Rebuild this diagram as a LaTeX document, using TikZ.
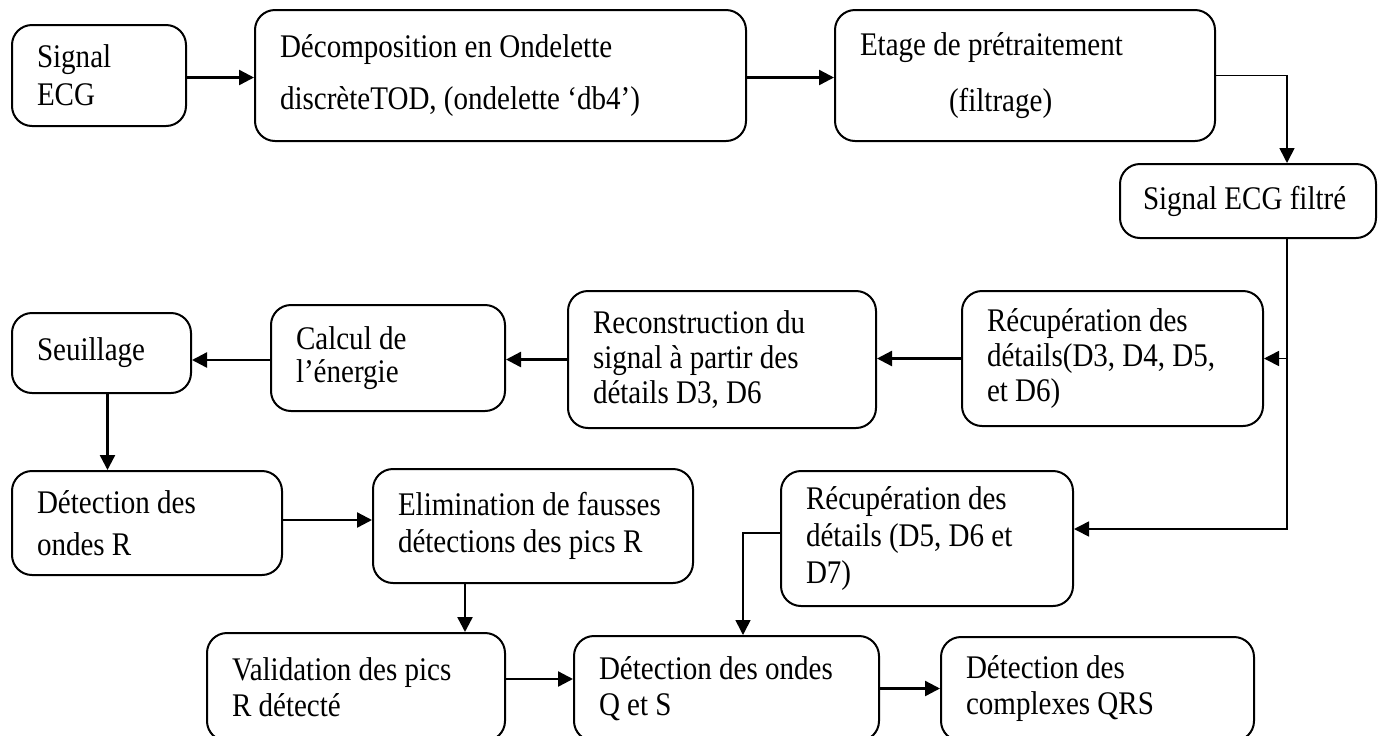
\documentclass[tikz,border=0pt]{standalone}
\usepackage{fontspec}
\setmainfont{Liberation Serif}[FakeStretch=0.88]
\usetikzlibrary{arrows.meta}
\begin{document}
\begin{tikzpicture}[x=0.5pt,y=-0.5pt,
  box/.style={draw, line width=1pt, rounded corners=10pt, anchor=north west, align=flush left,
    inner xsep=12.5pt, inner ysep=0pt, font=\fontsize{16.5}{17.5}\selectfont},
  arr/.style={line width=1.2pt, -{Triangle[length=7.5pt,width=7.5pt]}},
  trunk/.style={line width=0.8pt, -{Triangle[length=7.5pt,width=7.5pt]}}]
\useasboundingbox (0,0) rectangle (1378,735);
% row 1
\node[box, minimum width=87pt, minimum height=50.5pt, text width=62pt, font=\fontsize{16.5}{19}\selectfont] (sig) at (11,24) {Signal\\ECG};
\node[box, minimum width=245.5pt, minimum height=65.5pt, text width=220.5pt, font=\fontsize{16.5}{26}\selectfont] (dec) at (254,9) {Décomposition en Ondelette\\discrèteTOD, (ondelette ‘db4’)};
\node[box, minimum width=190pt, minimum height=65.5pt, text width=165pt, font=\fontsize{16.5}{28}\selectfont] (eta) at (834,9) {Etage de prétraitement\\\hspace*{44.5pt}(filtrage)};
\node[box, inner xsep=11.5pt, minimum width=128pt, minimum height=37pt, text width=105pt] (filt) at (1119,163) {\mbox{Signal ECG filtré}};
% row 2
\node[box, minimum width=150.5pt, minimum height=67.5pt, text width=125.5pt] (rec1) at (961,290) {Récupération des\\détails(D3, D4, D5,\\et D6)};
\node[box, minimum width=154pt, minimum height=68.5pt, text width=129pt] (recon) at (567,290) {Reconstruction du\\signal à partir des\\détails D3, D6};
\node[box, minimum width=117pt, minimum height=53pt, text width=92pt, font=\fontsize{16.5}{16.5}\selectfont] (calc) at (270,304) {Calcul de\\l’énergie};
\node[box, minimum width=89.5pt, minimum height=40pt, text width=64.5pt] (seuil) at (11,312) {Seuillage\vphantom{p}\\[-1pt]};
% row 3
\node[box, minimum width=135pt, minimum height=52pt, text width=110pt, font=\fontsize{16.5}{21}\selectfont] (detR) at (11,470) {Détection des\\ondes R};
\node[box, minimum width=159pt, minimum height=57pt, text width=135pt, font=\fontsize{16.5}{18.5}\selectfont] (elim) at (372,468) {\mbox{Elimination de fausses}\\\mbox{détections des pics R}};
\node[box, minimum width=146pt, minimum height=67.5pt, text width=121pt, font=\fontsize{16.5}{18.5}\selectfont] (rec2) at (780,470) {Récupération des\\détails (D5, D6 et\\D7)};
% row 4
\node[box, minimum width=149pt, minimum height=54pt, text width=124pt, font=\fontsize{16.5}{18}\selectfont] (valid) at (206,632) {Validation des pics\\R détecté};
\node[box, minimum width=152.5pt, minimum height=52.5pt, text width=127.5pt, font=\fontsize{16.5}{18}\selectfont] (qs) at (573,635) {Détection des ondes\\Q et S};
\node[box, minimum width=156.5pt, minimum height=52pt, text width=131.5pt, font=\fontsize{16.5}{18}\selectfont] (cpx) at (940,636) {Détection des\\complexes QRS};
% helper coordinates
\path (filt.north west) ++(168,0) coordinate (ftop);
\path (filt.south west) ++(168,0) coordinate (fbot);
% connectors
\draw[arr] ([yshift=-1pt]sig.east) -- ([yshift=-1pt]sig.east -| dec.west);
\draw[arr] ([yshift=-1pt]dec.east) -- ([yshift=-1pt]dec.east -| eta.west);
\draw[trunk] (eta.east) -| (ftop);
\draw[trunk] (fbot) |- (rec1.east);
\draw[trunk] (fbot) |- ([yshift=4.75pt]rec2.east);
\draw[arr] (rec1.west) -- (rec1.west -| recon.east);
\draw[arr] (recon.west) -- (recon.west -| calc.east);
\draw[arr] ([yshift=-1pt]calc.west) -- ([yshift=-1pt]calc.west -| seuil.east);
\draw[arr] ([xshift=3pt]seuil.south) -- ([xshift=3pt]seuil.south |- detR.north);
\draw[arr] ([yshift=1.5pt]detR.east) -- ([yshift=1.5pt]detR.east -| elim.west);
\draw[arr] ([xshift=46.5pt]elim.south west) coordinate (e1) -- (e1 |- valid.north);
\draw[arr] ([yshift=4pt]valid.east) -- ([yshift=4pt]valid.east -| qs.west);
\draw[trunk] ([yshift=2.75pt]rec2.west) -| ([xshift=85pt]qs.north west);
\draw[arr] (qs.east) -- (qs.east -| cpx.west);
\end{tikzpicture}
\end{document}
